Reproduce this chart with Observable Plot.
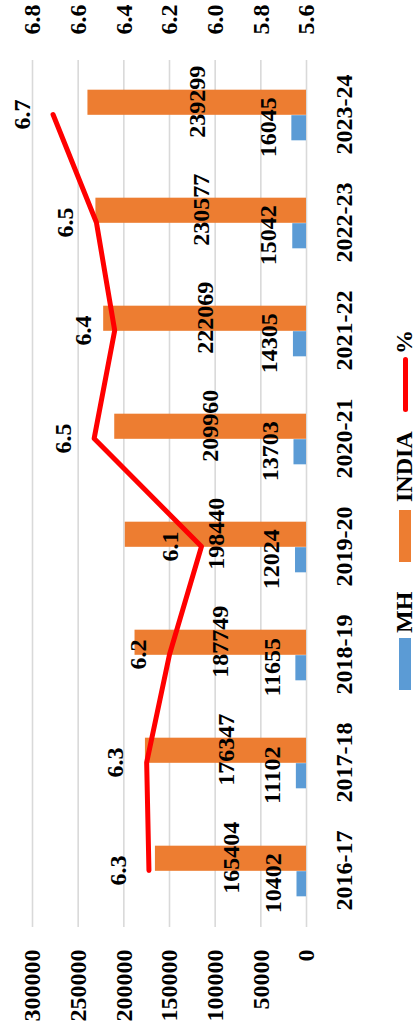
<!DOCTYPE html>
<html>
<head>
<meta charset="utf-8">
<script src="https://cdn.jsdelivr.net/npm/d3@7"></script>
<script src="https://cdn.jsdelivr.net/npm/@observablehq/plot@0.6"></script>
<style>
  html, body { margin: 0; padding: 0; background: #fff; overflow: hidden; }
  body { width: 416px; height: 1034px; position: relative; }
  #wrap {
    position: absolute; left: 0; top: 0; width: 1034px; height: 416px;
    transform-origin: 0 0; transform: translate(0px, 1034px) rotate(-90deg);
    background: #fff;
    font-family: "Liberation Serif", "Times New Roman", serif; font-weight: bold; font-size: 24px; color: #000;
  }
  #chart svg { display: block; }
  .lg { position: absolute; }
  .lgt { position: absolute; top: 392px; height: 24px; line-height: 24px; white-space: nowrap; }
</style>
</head>
<body>
<div id="wrap">
  <div id="chart"></div>
  <div id="legend"></div>
</div>
<script>
// ---- data ----
const years = ["2016-17", "2017-18", "2018-19", "2019-20", "2020-21", "2021-22", "2022-23", "2023-24"];
const mhValues = [10402, 11102, 11655, 12024, 13703, 14305, 15042, 16045];
const indiaValues = [165404, 176347, 187749, 198440, 209960, 222069, 230577, 239299];
const pctValues = [6.29, 6.30, 6.20, 6.06, 6.53, 6.44, 6.52, 6.71];
const leftTicks = [0, 50000, 100000, 150000, 200000, 250000, 300000];
const rightTicks = [5.6, 5.8, 6.0, 6.2, 6.4, 6.6, 6.8];
const seriesNames = ["MH", "INDIA", "%"];
const colors = { MH: "#5B9BD5", INDIA: "#ED7D31", "%": "#FF0000" };

// ---- secondary axis mapping (5.6..6.8 onto 0..300000) ----
const pMin = 5.6, pMax = 6.8, vMax = 300000;
const toY = p => (p - pMin) / (pMax - pMin) * vMax;
const fromY = v => pMin + v / vMax * (pMax - pMin);

const rows = years.map((year, i) => ({ year, mh: mhValues[i], india: indiaValues[i], pct: pctValues[i] }));

const W = 1034, H = 380, mL = 107, mR = 60, mT = 32, mB = 74;
const bw = (W - mL - mR) / years.length;
const barW = 25.5;
const font = "'Liberation Serif', 'Times New Roman', serif";

const chart = Plot.plot({
  width: W, height: H,
  marginLeft: mL, marginRight: mR, marginTop: mT, marginBottom: mB,
  x: { type: "band", domain: years, padding: 0 },
  y: { domain: [0, vMax] },
  style: { fontFamily: font, fontSize: "24px", fontWeight: "bold", color: "#000", background: "#fff", overflow: "visible" },
  marks: [
    Plot.ruleY(leftTicks, { stroke: "#d9d9d9", strokeWidth: 1.6 }),
    Plot.barY(rows, { x: "year", y: "mh", fill: colors.MH, insetLeft: bw / 2 - barW, insetRight: bw / 2 }),
    Plot.barY(rows, { x: "year", y: "india", fill: colors.INDIA, insetLeft: bw / 2, insetRight: bw / 2 - barW }),
    Plot.line(rows, { x: "year", y: d => toY(d.pct), stroke: colors["%"], strokeWidth: 5, strokeLinecap: "round", strokeLinejoin: "round" }),
    Plot.text(rows, { x: "year", y: "mh", text: d => String(d.mh), dx: -barW / 2, dy: -24, fontSize: 24, fontWeight: "bold", fill: "#000" }),
    Plot.text(rows, { x: "year", y: d => d.india / 2, text: d => String(d.india), dx: barW / 2, fontSize: 24, fontWeight: "bold", fill: "#000" }),
    Plot.text(rows, { x: "year", y: d => toY(d.pct), text: d => d.pct.toFixed(1), dy: -31, fontSize: 24, fontWeight: "bold", fill: "#000" }),
    Plot.axisX({ tickSize: 0, tickPadding: 28, fontSize: 24, fontWeight: "bold", label: null }),
    Plot.axisY({ ticks: leftTicks, anchor: "left", tickSize: 0, tickPadding: 23, tickFormat: d3.format("d"), fontSize: 24, fontWeight: "bold", label: null }),
    Plot.axisY({ ticks: rightTicks.map(toY), anchor: "right", tickSize: 0, tickPadding: 25, tickFormat: d => fromY(d).toFixed(1), fontSize: 24, fontWeight: "bold", label: null })
  ]
});
document.getElementById("chart").appendChild(chart);

// ---- legend ----
const legend = document.getElementById("legend");
const legendLayout = [
  { name: seriesNames[0], kind: "box", sw: 344, tx: 401 },
  { name: seriesNames[1], kind: "box", sw: 472, tx: 532 },
  { name: seriesNames[2], kind: "line", sw: 622, tx: 680 }
];
legendLayout.forEach(item => {
  const s = document.createElement("div");
  s.className = "lg";
  s.style.left = item.sw + "px";
  s.style.background = colors[item.name];
  if (item.kind === "box") { s.style.top = "399px"; s.style.width = "52px"; s.style.height = "12px"; }
  else { s.style.top = "402.5px"; s.style.width = "55px"; s.style.height = "5px"; s.style.borderRadius = "2.5px"; }
  legend.appendChild(s);
  const t = document.createElement("div");
  t.className = "lgt";
  t.style.left = item.tx + "px";
  t.textContent = item.name;
  legend.appendChild(t);
});
</script>
</body>
</html>
